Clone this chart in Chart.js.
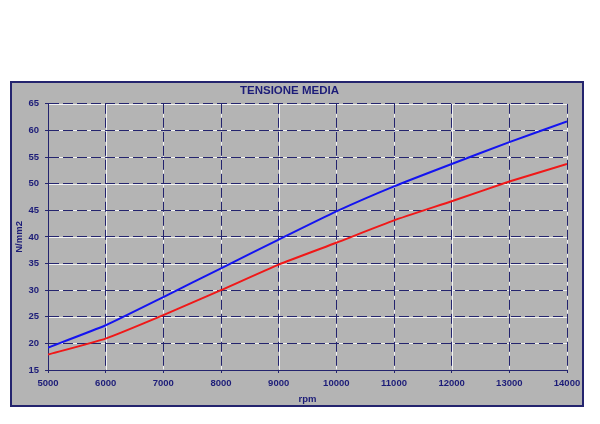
<!DOCTYPE html>
<html>
<head>
<meta charset="utf-8">
<script src="https://cdn.jsdelivr.net/npm/chart.js@4/dist/chart.umd.min.js"></script>
<style>
  html, body { margin: 0; padding: 0; background: #ffffff; width: 600px; height: 424px; overflow: hidden; }
  #box { position: absolute; left: 10px; top: 81px; width: 570px; height: 322px; border: 2px solid #24246e; background: #b4b4b4; }
  canvas { display: block; }
</style>
</head>
<body>
<div id="box"><canvas id="c" width="570" height="322"></canvas></div>
<script>
// Data
const rpm = [5000, 6000, 7000, 8000, 9000, 10000, 11000, 12000, 13000, 14000];
const seriesBlue = [19.2, 23.4, 28.7, 34.1, 39.5, 44.8, 49.5, 53.7, 57.8, 61.7];
const seriesRed  = [17.9, 20.9, 25.3, 30.0, 34.8, 38.9, 43.1, 46.7, 50.4, 53.7];
const xTicks = [5000, 6000, 7000, 8000, 9000, 10000, 11000, 12000, 13000, 14000];
const yTicks = [15, 20, 25, 30, 35, 40, 45, 50, 55, 60, 65];
const titleText = 'TENSIONE MEDIA';
const xTitle = 'rpm';
const yTitle = 'N/mm2';

const navy = '#24246e';
const textNavy = '#1c1c78';
const tickFont = { family: 'Liberation Sans, Arial, sans-serif', size: 9.5, weight: 'bold' };

// white underlay so that the dashed grid shows white gaps, as in the reference
const gridUnderlay = {
  id: 'gridUnderlay',
  beforeDraw(chart) {
    const { ctx, chartArea: a, scales } = chart;
    ctx.save();
    ctx.strokeStyle = '#f2f2f2';
    ctx.lineWidth = 1;
    ctx.beginPath();
    scales.x.ticks.forEach(t => {
      const px = Math.round(scales.x.getPixelForValue(t.value)) + 0.5;
      ctx.moveTo(px, a.top); ctx.lineTo(px, a.bottom);
    });
    scales.y.ticks.forEach(t => {
      const py = Math.round(scales.y.getPixelForValue(t.value)) + 0.5;
      ctx.moveTo(a.left, py); ctx.lineTo(a.right, py);
    });
    ctx.stroke();
    ctx.restore();
  }
};

new Chart(document.getElementById('c'), {
  type: 'line',
  data: {
    datasets: [
      { data: rpm.map((x, i) => ({ x, y: seriesBlue[i] })), borderColor: '#1414f0', borderWidth: 2, pointRadius: 0, tension: 0.15, fill: false },
      { data: rpm.map((x, i) => ({ x, y: seriesRed[i] })), borderColor: '#f01818', borderWidth: 2, pointRadius: 0, tension: 0.15, fill: false }
    ]
  },
  options: {
    responsive: false,
    animation: false,
    devicePixelRatio: 1,
    layout: { padding: { left: 0, right: 15, top: 0, bottom: 0 } },
    plugins: {
      legend: { display: false },
      tooltip: { enabled: false },
      title: {
        display: true,
        text: titleText,
        color: textNavy,
        font: { family: 'Liberation Sans, Arial, sans-serif', size: 11.5, weight: 'bold' },
        padding: { top: 1, bottom: 6 }
      }
    },
    scales: {
      x: {
        type: 'linear',
        min: xTicks[0],
        max: xTicks[xTicks.length - 1],
        afterBuildTicks: s => { s.ticks = xTicks.map(v => ({ value: v })); },
        afterFit: s => { s.height = 35; s.paddingRight = 0; s.paddingLeft = 0; },
        ticks: { color: textNavy, font: tickFont, padding: 5, maxRotation: 0, autoSkip: false, callback: v => String(v) },
        grid: { color: navy, lineWidth: 1, tickLength: 3, tickColor: navy },
        border: { display: true, color: navy, width: 1, dash: [10, 4] },
        title: { display: true, text: xTitle, color: textNavy, font: tickFont, padding: { top: 2, bottom: 0 } }
      },
      y: {
        type: 'linear',
        min: yTicks[0],
        max: yTicks[yTicks.length - 1],
        afterBuildTicks: s => { s.ticks = yTicks.map(v => ({ value: v })); },
        afterFit: s => { s.width = 36; },
        ticks: { color: textNavy, font: tickFont, padding: 6, callback: v => String(v) },
        grid: { color: navy, lineWidth: 1, tickLength: 3, tickColor: navy },
        border: { display: true, color: navy, width: 1, dash: [10, 4] },
        title: { display: true, text: yTitle, color: textNavy, font: tickFont, padding: { top: 2, bottom: 0 } }
      }
    }
  },
  plugins: [gridUnderlay]
});
</script>
</body>
</html>
